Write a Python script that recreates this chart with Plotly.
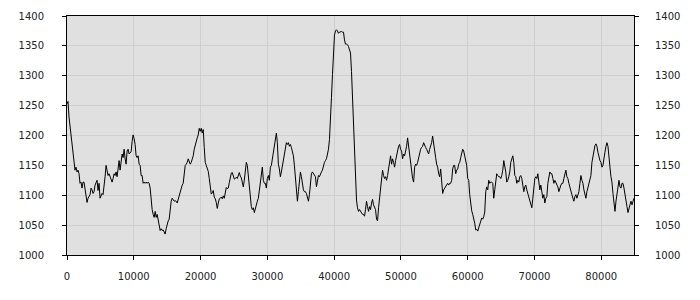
import plotly.graph_objects as go

SAMPLE_STEP = 150  # x distance between consecutive samples

values_part1 = [
    1253, 1257, 1231, 1215, 1203, 1188, 1174, 1158, 1142, 1147,
    1139, 1142, 1136, 1120, 1122, 1112, 1122, 1122, 1109, 1093,
    1088, 1095, 1098, 1101, 1112, 1109, 1103, 1106, 1117, 1122,
    1125, 1108, 1120, 1095, 1101, 1103, 1101, 1114, 1131, 1150,
    1139, 1133, 1136, 1131, 1128, 1122, 1128, 1136, 1133, 1139,
    1131, 1150, 1158, 1142, 1155, 1169, 1163, 1177, 1161, 1152,
    1174, 1177, 1169, 1172, 1173, 1190, 1201, 1195, 1185, 1166,
    1163, 1166, 1152, 1150, 1133, 1133, 1120, 1122, 1120, 1122,
    1120, 1122, 1120, 1112, 1090, 1076, 1068, 1063, 1073, 1063,
    1068, 1057, 1044, 1041, 1044, 1041, 1042, 1038, 1035, 1044,
    1052, 1057, 1060, 1079, 1090, 1095, 1093, 1090, 1091, 1090,
    1087, 1093, 1103, 1106, 1112, 1117, 1120, 1136, 1150, 1152,
    1155, 1161, 1154, 1152, 1155, 1161, 1166, 1177, 1185, 1193,
    1196, 1201,
    1212, 1207, 1212, 1204, 1210, 1180, 1155, 1150, 1146, 1140,
    1128, 1113, 1102, 1104, 1108, 1097, 1094, 1088, 1078, 1087,
    1094, 1095, 1097, 1094, 1099, 1095, 1103, 1113, 1111, 1112,
    1121, 1127, 1137, 1138, 1130, 1127, 1128, 1130, 1128, 1134,
    1138,
]

values_part2 = [
    1132, 1129, 1122, 1114, 1125, 1142, 1155, 1150, 1133, 1106,
    1087, 1081, 1076, 1079, 1071, 1079, 1081, 1090, 1095, 1106,
    1122, 1133, 1147, 1125, 1120, 1120, 1112, 1128, 1133, 1125,
    1147, 1150, 1161, 1169, 1182, 1199, 1204, 1188, 1152, 1144,
    1131, 1139, 1150, 1161, 1172, 1182, 1188, 1185, 1188, 1182,
    1185, 1180, 1174, 1166, 1150, 1128, 1112, 1090, 1106, 1131,
    1139, 1131, 1117, 1109, 1106, 1106, 1103, 1098, 1090, 1101,
    1120, 1136, 1139, 1136, 1133, 1131, 1114, 1128, 1133, 1131,
    1136, 1139, 1142, 1150, 1155, 1158, 1161, 1169, 1177, 1193,
    1220, 1264, 1302, 1337, 1368, 1375, 1377, 1375, 1371, 1373,
    1374, 1374, 1373, 1373, 1360, 1353, 1353, 1352, 1349, 1345,
    1338, 1307, 1258, 1210, 1168, 1128, 1092,
    1079, 1073, 1076, 1073, 1071, 1068, 1068, 1065, 1076, 1090,
    1081, 1073, 1081, 1076, 1087, 1093, 1084, 1079, 1076, 1060,
    1057, 1079, 1093, 1109, 1125, 1142, 1133, 1128, 1131, 1125,
    1133, 1144, 1150, 1166, 1152, 1161, 1155, 1147, 1158, 1169,
    1174, 1182, 1185, 1177, 1174, 1161, 1169, 1166, 1172, 1182,
    1196, 1182, 1166, 1155, 1144, 1128, 1122, 1147, 1152, 1150,
    1155, 1163, 1169, 1177, 1180, 1182, 1188, 1182, 1180, 1177,
    1172, 1169, 1177, 1182, 1188, 1199, 1185, 1169, 1163, 1152,
    1147, 1136, 1131, 1144, 1120, 1103, 1109, 1112, 1114, 1117,
    1120, 1117, 1120, 1120, 1125, 1144, 1150, 1150, 1136, 1142,
    1144, 1152, 1155, 1163, 1169, 1177, 1174, 1166, 1161, 1150,
    1128, 1125, 1101,
]

values_part3 = [
    1080, 1074, 1068, 1062, 1053, 1042, 1043, 1040, 1045, 1050,
    1056, 1062, 1060, 1064, 1072, 1106, 1114, 1109, 1125, 1120,
    1122, 1122, 1120, 1095, 1109, 1128, 1136, 1133, 1131, 1131,
    1128, 1133, 1142, 1158, 1150, 1139, 1122, 1125, 1131, 1139,
    1155, 1161, 1166, 1155, 1133, 1131, 1120, 1125, 1122, 1131,
    1133, 1128, 1112, 1106, 1114, 1117, 1109, 1103, 1095, 1087,
    1081, 1079, 1095, 1112, 1128, 1131, 1128, 1136, 1122, 1109,
    1117, 1103, 1095, 1101, 1087, 1095, 1098, 1120, 1133, 1139,
    1136, 1136, 1128, 1120, 1125, 1122, 1117, 1114, 1106, 1114,
    1117, 1120, 1120, 1128, 1139, 1142, 1131, 1128, 1120, 1112,
    1103, 1101, 1095, 1090, 1098, 1101, 1095, 1101, 1106, 1120,
    1133, 1125, 1120, 1109, 1103, 1095, 1106, 1112, 1120, 1125,
    1133, 1155, 1166, 1177, 1183, 1186, 1182, 1172, 1163, 1158,
    1155, 1147, 1150, 1166, 1172, 1182, 1188, 1182, 1155, 1147,
    1131, 1122, 1103, 1090, 1073, 1090, 1103, 1114, 1125, 1114,
    1112, 1120, 1120, 1112, 1101, 1084, 1081, 1071, 1081, 1084,
    1090, 1084, 1090, 1095,
]

y_ticks = [1000, 1050, 1100, 1150, 1200, 1250, 1300, 1350, 1400]
x_ticks = [0, 10000, 20000, 30000, 40000, 50000, 60000, 70000, 80000]

values = values_part1 + values_part2 + values_part3
x = [i * SAMPLE_STEP for i in range(len(values))]

fig = go.Figure()
fig.add_trace(go.Scatter(x=x, y=values, mode="lines",
                         line=dict(color="black", width=1), hoverinfo="skip"))
fig.add_trace(go.Scatter(x=x, y=values, mode="lines", yaxis="y2",
                         line=dict(color="black", width=1), hoverinfo="skip",
                         opacity=0))

font = dict(family="DejaVu Sans", size=10, color="#222222")
axis_common = dict(showline=True, linecolor="black", linewidth=1,
                   ticks="outside", ticklen=4, tickcolor="black",
                   tickfont=font, zeroline=False)

fig.update_layout(
    width=700, height=300,
    margin=dict(l=67, r=66, t=10, b=45),
    paper_bgcolor="white",
    plot_bgcolor="#e0e0e0",
    showlegend=False,
    xaxis=dict(range=[0, x[-1]], tickvals=x_ticks,
               ticktext=[str(v) for v in x_ticks],
               showgrid=True, gridcolor="#cfcfcf", gridwidth=1,
               mirror=True, ticklabelstandoff=8, **axis_common),
    yaxis=dict(range=[1000, 1400], tickvals=y_ticks,
               showgrid=True, gridcolor="#cfcfcf", gridwidth=1,
               ticklabelstandoff=16, **axis_common),
    yaxis2=dict(range=[1000, 1400], tickvals=y_ticks, overlaying="y",
                side="right", showgrid=False, ticklabelstandoff=14,
                **axis_common),
)

fig.write_html("out.html")
